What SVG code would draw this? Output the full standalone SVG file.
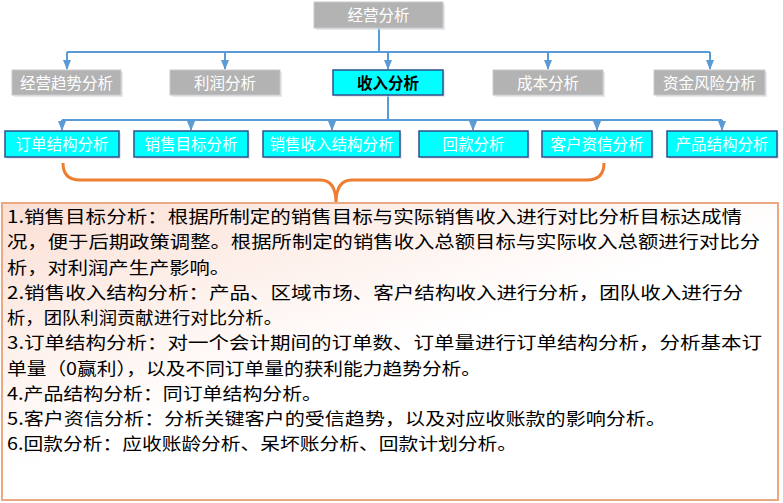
<svg xmlns="http://www.w3.org/2000/svg" width="783" height="503" viewBox="0 0 783 503">
<defs>
<style>
.gray{fill:#b3b3b3;stroke:#c9c9c9;stroke-width:1}
.cyan{fill:#00ffff;stroke:#2f4f8c;stroke-width:1.5}
.nt{font-family:"Noto Sans CJK SC","Noto Sans",sans-serif;font-size:15.5px;fill:#ffffff;text-anchor:middle}
.bt{font-family:"Noto Sans CJK SC","Noto Sans",sans-serif;font-size:15.5px;fill:#000000;font-weight:bold;text-anchor:middle}
.conn{stroke:#5b9bd5;stroke-width:2;fill:none}
.body{font-family:"Noto Sans CJK SC","Noto Sans",sans-serif;font-size:17.3px;fill:#000000}
.shadow{fill:#d6dbe3;opacity:0.6}
</style>
<marker id="arr" markerWidth="10" markerHeight="8" refX="9" refY="4" orient="auto" markerUnits="userSpaceOnUse">
<path d="M0,0 L10,4 L0,8 Z" fill="#5b9bd5"/>
</marker>
<linearGradient id="bg" x1="0" y1="0" x2="0.75" y2="0.9">
<stop offset="0" stop-color="#fbdfd4"/>
<stop offset="0.6" stop-color="#ffffff"/>
<stop offset="1" stop-color="#ffffff"/>
</linearGradient>
</defs>
<rect width="783" height="503" fill="#ffffff"/>

<g id="connectors">
<path class="conn" d="M379,28 V52"/>
<path class="conn" d="M67,52 H710"/>
<path class="conn" d="M67,52 V69" marker-end="url(#arr)"/>
<path class="conn" d="M225,52 V69" marker-end="url(#arr)"/>
<path class="conn" d="M388,52 V69" marker-end="url(#arr)"/>
<path class="conn" d="M548,52 V69" marker-end="url(#arr)"/>
<path class="conn" d="M710,52 V69" marker-end="url(#arr)"/>
<path class="conn" d="M388,95 V120"/>
<path class="conn" d="M62,120 H722"/>
<path class="conn" d="M62,120 V130" marker-end="url(#arr)"/>
<path class="conn" d="M191,120 V130" marker-end="url(#arr)"/>
<path class="conn" d="M332,120 V130" marker-end="url(#arr)"/>
<path class="conn" d="M473,120 V130" marker-end="url(#arr)"/>
<path class="conn" d="M597,120 V130" marker-end="url(#arr)"/>
<path class="conn" d="M722,120 V130" marker-end="url(#arr)"/>
<path d="M63,163 Q63,180 80,180 L320,180 Q336,180 336,203 M604,163 Q604,180 587,180 L352,180 Q336,180 336,203" fill="none" stroke="#ed7d31" stroke-width="3"/>
</g>

<g id="n-top"><rect class="shadow" x="316" y="4" width="129" height="26"/><rect class="gray" x="314" y="2" width="129" height="26"/><text class="nt" x="378.5" y="21">经营分析</text></g>

<g id="n-trend"><rect class="shadow" x="14" y="72" width="109" height="25"/><rect class="gray" x="12" y="70" width="109" height="25"/><text class="nt" x="66.5" y="88.5">经营趋势分析</text></g>
<g id="n-profit"><rect class="shadow" x="172" y="72" width="110" height="25"/><rect class="gray" x="170" y="70" width="110" height="25"/><text class="nt" x="225" y="88.5">利润分析</text></g>
<g id="n-income"><rect class="shadow" x="335" y="72" width="110" height="25"/><rect class="cyan" x="333" y="70" width="110" height="25"/><text class="bt" x="388" y="88.5">收入分析</text></g>
<g id="n-cost"><rect class="shadow" x="495" y="72" width="110" height="25"/><rect class="gray" x="493" y="70" width="110" height="25"/><text class="nt" x="548" y="88.5">成本分析</text></g>
<g id="n-fund"><rect class="shadow" x="656" y="72" width="111" height="25"/><rect class="gray" x="654" y="70" width="111" height="25"/><text class="nt" x="709.5" y="88.5">资金风险分析</text></g>

<g id="n-order"><rect class="shadow" x="7" y="133" width="114" height="26"/><rect class="cyan" x="5" y="131" width="114" height="26"/><text class="nt" x="62" y="150">订单结构分析</text></g>
<g id="n-target"><rect class="shadow" x="136" y="133" width="114" height="26"/><rect class="cyan" x="134" y="131" width="114" height="26"/><text class="nt" x="191" y="150">销售目标分析</text></g>
<g id="n-salesstruct"><rect class="shadow" x="265" y="133" width="137" height="26"/><rect class="cyan" x="263" y="131" width="137" height="26"/><text class="nt" x="331.5" y="150">销售收入结构分析</text></g>
<g id="n-payback"><rect class="shadow" x="421" y="133" width="109" height="26"/><rect class="cyan" x="419" y="131" width="109" height="26"/><text class="nt" x="473.5" y="150">回款分析</text></g>
<g id="n-credit"><rect class="shadow" x="544" y="133" width="110" height="26"/><rect class="cyan" x="542" y="131" width="110" height="26"/><text class="nt" x="597" y="150">客户资信分析</text></g>
<g id="n-product"><rect class="shadow" x="669" y="133" width="110" height="26"/><rect class="cyan" x="667" y="131" width="110" height="26"/><text class="nt" x="722" y="150">产品结构分析</text></g>

<g id="n-desc">
<rect x="2" y="203" width="776" height="297" fill="url(#bg)" stroke="#eaa982" stroke-width="2"/>
<text class="body" x="7" y="223" textLength="735" lengthAdjust="spacingAndGlyphs">1.销售目标分析：根据所制定的销售目标与实际销售收入进行对比分析目标达成情</text>
<text class="body" x="7" y="248" textLength="753" lengthAdjust="spacingAndGlyphs">况，便于后期政策调整。根据所制定的销售收入总额目标与实际收入总额进行对比分</text>
<text class="body" x="7" y="273.5" textLength="223" lengthAdjust="spacingAndGlyphs">析，对利润产生产影响。</text>
<text class="body" x="7" y="298.5" textLength="736" lengthAdjust="spacingAndGlyphs">2.销售收入结构分析：产品、区域市场、客户结构收入进行分析，团队收入进行分</text>
<text class="body" x="7" y="324" textLength="275" lengthAdjust="spacingAndGlyphs">析，团队利润贡献进行对比分析。</text>
<text class="body" x="7" y="349" textLength="755" lengthAdjust="spacingAndGlyphs">3.订单结构分析：对一个会计期间的订单数、订单量进行订单结构分析，分析基本订</text>
<text class="body" x="7" y="374.5" textLength="474" lengthAdjust="spacingAndGlyphs">单量（0赢利），以及不同订单量的获利能力趋势分析。</text>
<text class="body" x="7" y="399.5" textLength="315" lengthAdjust="spacingAndGlyphs">4.产品结构分析：同订单结构分析。</text>
<text class="body" x="7" y="424.5" textLength="659" lengthAdjust="spacingAndGlyphs">5.客户资信分析：分析关键客户的受信趋势，以及对应收账款的影响分析。</text>
<text class="body" x="7" y="450" textLength="510" lengthAdjust="spacingAndGlyphs">6.回款分析：应收账龄分析、呆坏账分析、回款计划分析。</text>
</g>
</svg>
